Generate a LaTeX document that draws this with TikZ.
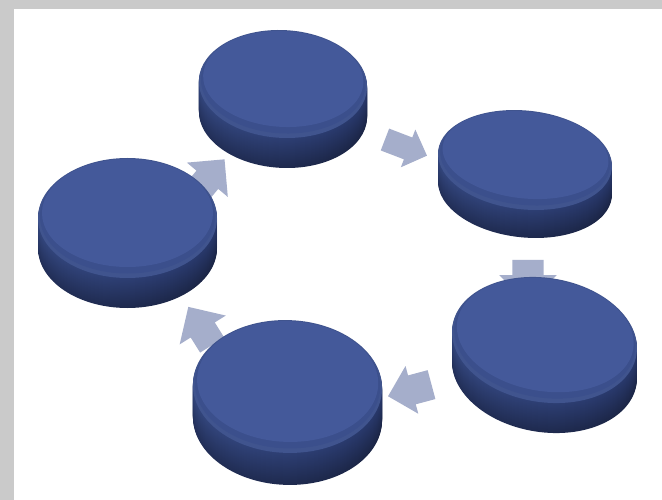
\documentclass[tikz,border=0pt]{standalone}
\usetikzlibrary{shapes.arrows}
\definecolor{face}{HTML}{44599A}
\definecolor{rimmid}{HTML}{3B4F8C}
\definecolor{rimout}{HTML}{40548E}
\definecolor{sideLtop}{HTML}{33467D}
\definecolor{sideLbot}{HTML}{222F58}
\definecolor{sideRtop}{HTML}{28386B}
\definecolor{sideRbot}{HTML}{1B2545}
\definecolor{arrowcol}{HTML}{A5AECB}
\definecolor{bggrey}{HTML}{CACACA}
\newcommand\mydisc[7]{% name, cx, cy, a, b, rot, h
\begin{scope}[shift={(#2,#3)}]
 \coordinate (#1) at (0,0);
 \foreach \k in {#7,...,1}{%
   \pgfmathtruncatemacro\pc{100*\k/#7}
   \shade[left color=sideLbot!\pc!sideLtop, right color=sideRbot!\pc!sideRtop,
          shift={(0,\k)}, rotate=#6] (0,0) ellipse [x radius=#4pt, y radius=#5pt];
 }
 \begin{scope}[rotate=#6]
 \fill[rimout] (0,0) ellipse [x radius=#4pt, y radius=#5pt];
 \fill[rimmid] (0,-1.5) ellipse [x radius=#4pt-2pt, y radius=#5pt-3pt];
 \fill[face] (0,-5) ellipse [x radius=#4pt-4pt, y radius=#5pt-6pt];
 \end{scope}
\end{scope}}
\begin{document}
\begin{tikzpicture}[x=1pt,y=-1pt,
  blockarrow/.style={single arrow, fill=arrowcol, draw=none, inner xsep=0pt,
    inner ysep=14pt, single arrow head extend=12pt, minimum height=45pt}]
\useasboundingbox (0,0) rectangle (662,500);
\fill[bggrey] (0,0) rectangle (662,500);
\fill[white] (14,9) rectangle (662,500);
% arrows
\node[blockarrow, inner ysep=11.5pt, single arrow head extend=8.5pt, rotate=-21] (a1) at (400.5,145.5) {};
\node[blockarrow, inner ysep=15.5pt, single arrow head extend=13pt, minimum height=44pt, rotate=-90] (a2) at (528,274) {};
\node[blockarrow, inner ysep=14.75pt, single arrow head extend=9.75pt, rotate=195] (a3) at (417,388.5) {};
\node[blockarrow, single arrow head extend=13pt, rotate=122] (a4) at (204,332) {};
\node[blockarrow, single arrow head extend=12.5pt, rotate=50] (a5) at (205.5,182) {};
% discs
\mydisc{d1}{283}{84}{84.2}{53.9}{-3}{30}
\mydisc{d2}{525}{160}{87.3}{49.4}{-6}{28}
\mydisc{d3}{544.5}{340}{93.1}{62.1}{-9}{30}
\mydisc{d4}{287.5}{386.5}{94.6}{66.4}{-2}{32}
\mydisc{d5}{127.5}{218}{89.5}{60}{0}{30}
\end{tikzpicture}
\end{document}
